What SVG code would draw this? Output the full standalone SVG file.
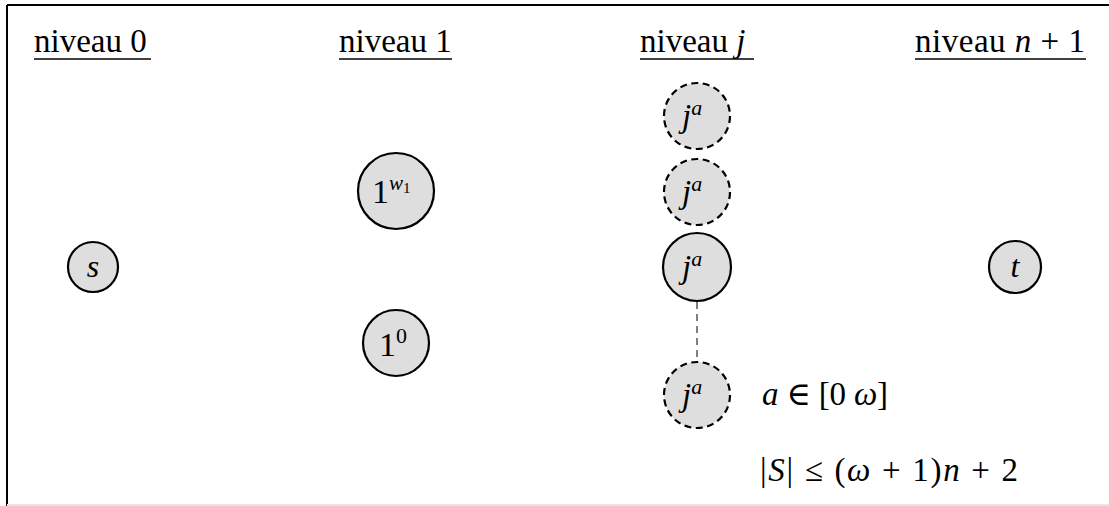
<svg xmlns="http://www.w3.org/2000/svg" width="1109" height="506" viewBox="0 0 1109 506">
<style>
.t{font-family:"Liberation Serif","DejaVu Serif",serif;fill:#000}
.h{font-size:33px}
.m{font-style:italic}
.n{fill:#dedede;stroke:#000;stroke-width:2.2}
.d{stroke-dasharray:7 4.5}
.u{stroke:#000;stroke-width:1.3}
</style>
<rect x="0" y="0" width="1109" height="506" fill="#fff"/>
<g id="frame">
<line x1="7" y1="5" x2="1109" y2="5" stroke="#000" stroke-width="2"/>
<line x1="7" y1="5" x2="7" y2="506" stroke="#000" stroke-width="2"/>
<line x1="7" y1="505" x2="1109" y2="505" stroke="#e6e6e6" stroke-width="2"/>
</g>
<g id="headers">
<text class="t h" x="34" y="52">niveau 0</text>
<line class="u" x1="34" y1="59" x2="151" y2="59"/>
<text class="t h" x="339" y="52">niveau 1</text>
<line class="u" x1="339" y1="59" x2="452" y2="59"/>
<text class="t h" x="640" y="52">niveau <tspan class="m">j</tspan></text>
<line class="u" x1="640" y1="59" x2="754" y2="59"/>
<text class="t h" x="915" y="52" textLength="170">niveau <tspan class="m">n</tspan> + 1</text>
<line class="u" x1="915" y1="59" x2="1086" y2="59"/>
</g>
<g id="connectors">
<line x1="697" y1="302" x2="697" y2="362" stroke="#555" stroke-width="1.5" stroke-dasharray="7 5"/>
</g>
<g id="node-s">
<circle class="n" cx="93" cy="267" r="25"/>
<text class="t m" x="93" y="277" font-size="32" text-anchor="middle">s</text>
</g>
<g id="node-1w1">
<circle class="n" cx="396" cy="191" r="38"/>
<text class="t" x="372" y="203" font-size="34">1<tspan font-size="21" font-style="italic" dy="-13">w</tspan><tspan font-size="15" dy="3">1</tspan></text>
</g>
<g id="node-10">
<circle class="n" cx="396" cy="343" r="33"/>
<text class="t" x="379" y="356" font-size="34">1<tspan font-size="22" dy="-13">0</tspan></text>
</g>
<g id="node-ja1">
<circle class="n d" cx="697" cy="116" r="33"/>
<text class="t m" x="682" y="127" font-size="33">j<tspan font-size="22" dy="-12">a</tspan></text>
</g>
<g id="node-ja2">
<circle class="n d" cx="697" cy="192" r="33"/>
<text class="t m" x="682" y="203" font-size="33">j<tspan font-size="22" dy="-12">a</tspan></text>
</g>
<g id="node-ja3">
<circle class="n" cx="697" cy="267" r="34"/>
<text class="t m" x="682" y="278" font-size="33">j<tspan font-size="22" dy="-12">a</tspan></text>
</g>
<g id="node-ja4">
<circle class="n d" cx="697" cy="395" r="33"/>
<text class="t m" x="682" y="406" font-size="33">j<tspan font-size="22" dy="-12">a</tspan></text>
</g>
<g id="node-t">
<circle class="n" cx="1015" cy="267" r="26"/>
<text class="t m" x="1015" y="277" font-size="32" text-anchor="middle">t</text>
</g>
<g id="notes">
<text class="t" x="762" y="405" font-size="33" textLength="126"><tspan class="m">a</tspan> ∈ [0   <tspan class="m">ω</tspan>]</text>
<text class="t" x="760" y="481" font-size="33" textLength="258">|<tspan class="m">S</tspan>| ≤ (<tspan class="m">ω</tspan> + 1)<tspan class="m">n</tspan> + 2</text>
</g>
</svg>
